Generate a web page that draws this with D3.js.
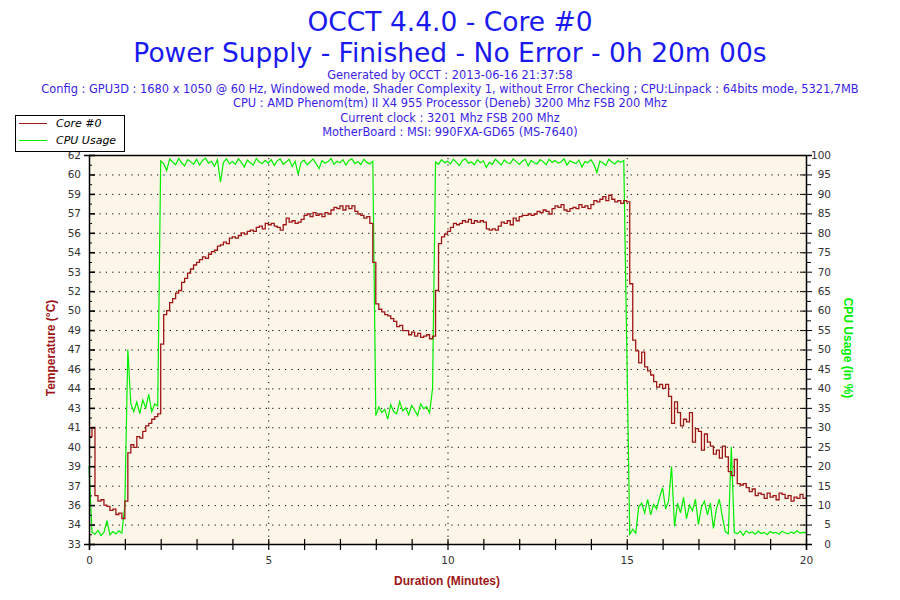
<!DOCTYPE html>
<html>
<head>
<meta charset="utf-8">
<script src="https://cdn.jsdelivr.net/npm/d3@7"></script>
<style>
  body { margin: 0; background: #fff; }
  svg { display: block; }
</style>
</head>
<body>
<svg id="chart" width="900" height="600"></svg>
<script>
// one sample every 5 seconds, 0..20 minutes
const sampleMinutes = 5 / 60;

const coreTemp = [
  41.0, 41.7, 36.6, 36.2, 36.3, 35.9, 35.8, 35.5, 35.6, 35.2, 35.3, 34.9,
  36.2, 39.8, 40.4, 40.2, 41.0, 40.9, 41.4, 41.8, 42.0, 42.3, 42.5, 42.7,
  47.9, 50.1, 50.4, 51.0, 51.3, 51.7, 51.9, 52.5, 52.8, 53.2, 53.5, 53.8,
  54.0, 54.2, 54.4, 54.3, 54.6, 54.8, 54.9, 55.2, 55.3, 55.5, 55.4, 55.8,
  55.9, 55.8, 56.0, 56.2, 56.1, 56.3, 56.4, 56.3, 56.6, 56.7, 56.5, 56.9,
  56.8, 56.9, 56.7, 56.6, 56.4, 56.8, 57.3, 57.0, 57.1, 56.9, 57.0, 57.2,
  57.5, 57.6, 57.4, 57.7, 57.5, 57.6, 57.4, 57.7, 57.6, 57.9, 58.1, 58.0,
  58.2, 57.9, 58.2, 58.0, 58.2, 57.8, 57.6, 57.5, 57.3, 57.4, 56.9, 54.0,
  50.9, 50.5, 50.3, 50.1, 50.0, 49.8, 49.6, 49.2, 49.3, 48.9, 48.9, 48.6,
  48.8, 48.5, 48.7, 48.4, 48.5, 48.6, 48.3, 48.5, 51.9, 55.4, 55.9, 56.1,
  56.3, 56.6, 56.9, 56.8, 56.9, 57.1, 57.0, 57.2, 56.9, 57.1, 57.0, 57.1,
  57.0, 56.5, 56.4, 56.5, 56.4, 56.7, 57.0, 56.9, 57.1, 56.8, 57.3, 57.1,
  57.4, 57.5, 57.5, 57.6, 57.5, 57.6, 57.8, 57.7, 57.9, 57.8, 57.6, 58.0,
  58.2, 58.1, 58.3, 57.9, 57.8, 58.0, 58.1, 58.0, 58.3, 58.1, 58.2, 58.0,
  58.3, 58.6, 58.5, 58.7, 58.9, 58.6, 59.0, 58.7, 58.5, 58.6, 58.4, 58.6,
  58.5, 52.4, 48.2, 47.4, 46.5, 47.3, 46.2, 45.9, 45.6, 45.1, 44.7, 44.9,
  44.6, 44.9, 44.0, 42.0, 43.6, 42.8, 41.8, 42.3, 42.1, 42.8, 40.6, 41.6,
  41.4, 40.0, 41.2, 40.6, 40.3, 39.7, 40.0, 39.4, 40.3, 39.5, 38.4, 38.1,
  39.3, 37.5, 37.4, 37.5, 37.2, 36.9, 37.1, 36.6, 36.8, 36.7, 36.4, 36.8,
  36.5, 36.6, 36.3, 36.8, 36.7, 36.4, 36.6, 36.2, 36.5, 36.4, 36.7, 36.4,
  36.5
];

const cpuUsage = [
  20.0, 3.0, 2.5, 3.5, 2.2, 3.0, 6.0, 2.4, 3.2, 2.6, 3.4, 2.8,
  10.0, 50.0, 36.0, 34.0, 36.5, 33.5, 37.0, 35.0, 38.5, 34.0, 36.0, 35.5,
  98.5, 97.8, 96.0, 99.0, 98.2, 97.5, 99.1, 98.0, 97.2, 98.8, 98.3, 97.6,
  98.9, 97.4, 98.6, 99.2, 97.9, 98.4, 97.1, 98.8, 93.0, 98.1, 99.0, 97.7,
  98.3, 97.6, 99.0, 98.1, 96.9, 98.7, 98.0, 97.4, 99.1, 98.2, 97.8, 98.6,
  97.9, 98.8, 97.3, 98.5, 99.0, 97.6, 98.2, 98.9, 97.0, 98.4, 95.0, 98.1,
  98.7, 97.5, 98.2, 99.0, 97.8, 96.5, 98.6, 97.9, 98.3, 99.1, 97.6, 98.4,
  98.0, 98.8, 97.4, 98.6, 99.0, 97.8, 98.3, 97.5, 98.9, 98.1, 97.7, 98.4,
  33.0, 35.2, 33.8, 34.6, 32.1, 35.8, 34.0, 33.5, 36.6, 34.2, 35.0, 33.2,
  35.6, 34.4, 33.0, 36.0, 34.8, 35.3, 33.7, 40.0, 98.2, 97.6, 98.8, 98.0,
  98.4, 97.7, 98.9, 98.1, 97.3, 98.6, 99.0, 97.9, 98.2, 97.5, 98.8, 98.0,
  98.5, 96.8, 98.1, 97.6, 98.9, 98.2, 97.4, 98.7, 98.0, 97.8, 99.0, 98.3,
  97.6, 98.4, 98.9, 97.2, 98.6, 98.0, 97.7, 98.8, 98.3, 97.5, 98.9, 98.1,
  98.6, 97.9, 98.2, 99.0, 97.4, 98.5, 98.1, 97.8, 98.7, 96.9, 98.3, 98.0,
  98.8, 97.6, 95.5, 98.4, 98.0, 97.3, 98.9, 98.2, 97.7, 98.5, 98.1, 98.6,
  51.0, 2.5, 3.8, 2.8, 9.5, 10.5, 8.0, 11.5, 7.5, 10.2, 9.0, 12.0,
  14.5, 9.0, 11.0, 19.9, 4.5, 10.5, 8.0, 12.0, 6.5, 10.0, 8.5, 11.5,
  5.0, 9.5, 11.0, 7.5, 10.5, 4.0, 9.0, 11.5, 7.0, 3.2, 2.6, 25.0,
  3.0, 2.6, 3.3, 2.2, 3.4, 2.8, 3.1, 2.5, 3.3, 2.7, 3.0, 2.4,
  3.2, 2.8, 3.0, 2.5, 3.3, 2.9, 2.6, 3.1, 2.7, 3.4, 2.8, 3.0,
  2.9
];

const tempLabels = ["33","34","36","37","39","40","41","43","44","46","47",
                    "49","50","52","53","54","56","57","59","60","62"];
const cpuTicks = d3.range(0, 101, 5);
const minuteTicks = d3.range(0, 21, 1);

const titleLines = ["OCCT 4.4.0 - Core #0", "Power Supply - Finished - No Error - 0h 20m 00s"];
const infoLines = [
  "Generated by OCCT : 2013-06-16 21:37:58",
  "Config : GPU3D : 1680 x 1050 @ 60 Hz, Windowed mode, Shader Complexity 1, without Error Checking ; CPU:Linpack : 64bits mode, 5321,7MB",
  "CPU : AMD Phenom(tm) II X4 955 Processor (Deneb) 3200 Mhz FSB 200 Mhz",
  "Current clock : 3201 Mhz FSB 200 Mhz",
  "MotherBoard : MSI: 990FXA-GD65 (MS-7640)"
];

const red = "#9e1616";
const green = "#00ee00";

const svg = d3.select("#chart");
const pLeft = 89, pRight = 806, pTop = 155, pBottom = 544;

const x = d3.scaleLinear().domain([0, 20]).range([pLeft, pRight]);
const yT = d3.scaleLinear().domain([33, 62]).range([pBottom, pTop]);
const yC = d3.scaleLinear().domain([0, 100]).range([pBottom, pTop]);

// titles
svg.selectAll("text.title")
  .data(titleLines)
  .enter().append("text")
  .attr("class", "title")
  .attr("x", 450)
  .attr("y", (d, i) => 31 + i * 31)
  .attr("text-anchor", "middle")
  .style("font-family", "DejaVu Sans, Verdana, sans-serif")
  .style("font-size", "26.5px")
  .style("fill", "#1a1aee")
  .text(d => d);

svg.selectAll("text.info")
  .data(infoLines)
  .enter().append("text")
  .attr("class", "info")
  .attr("x", 450)
  .attr("y", (d, i) => 79 + i * 14.2)
  .attr("text-anchor", "middle")
  .style("font-family", "DejaVu Sans, Verdana, sans-serif")
  .style("font-size", "11.4px")
  .style("fill", "#3a1ee6")
  .text(d => d);

// plot background
svg.append("rect")
  .attr("x", pLeft).attr("y", pTop)
  .attr("width", pRight - pLeft).attr("height", pBottom - pTop)
  .style("fill", "#fdf6e8");

// dotted grid
svg.append("g").selectAll("line")
  .data(cpuTicks.filter(d => d > 0 && d < 100))
  .enter().append("line")
  .attr("x1", pLeft + 4).attr("x2", pRight)
  .attr("y1", d => yC(d) + 0.5).attr("y2", d => yC(d) + 0.5)
  .style("stroke", "#000")
  .style("stroke-dasharray", "1.2,5.2");

svg.append("g").selectAll("line")
  .data([5, 10, 15])
  .enter().append("line")
  .attr("x1", d => x(d) + 0.5).attr("x2", d => x(d) + 0.5)
  .attr("y1", pTop + 3).attr("y2", pBottom)
  .style("stroke", "#000")
  .style("stroke-dasharray", "1.2,5.2");

// series
const tLine = d3.line()
  .x((d, i) => x(i * sampleMinutes))
  .y(d => yT(d))
  .curve(d3.curveStepAfter);
const cLine = d3.line()
  .x((d, i) => x(i * sampleMinutes))
  .y(d => yC(d));

svg.append("path")
  .datum(cpuUsage)
  .attr("d", cLine)
  .style("fill", "none")
  .style("stroke", green)
  .style("stroke-width", 1.2);

svg.append("path")
  .datum(coreTemp)
  .attr("d", tLine)
  .style("fill", "none")
  .style("stroke", red)
  .style("stroke-width", 1.3);

// frame top
svg.append("line")
  .attr("x1", pLeft).attr("x2", pRight)
  .attr("y1", pTop + 0.5).attr("y2", pTop + 0.5)
  .style("stroke", "#000").style("stroke-width", 1.5);

const tickFont = "DejaVu Sans, Verdana, sans-serif";

// left axis
const tempTickVals = tempLabels.map((d, i) => 33 + i * (62 - 33) / 20);
const gL = svg.append("g").attr("transform", `translate(${pLeft},0)`)
  .call(d3.axisLeft(yT).tickValues(tempTickVals).tickSize(5)
    .tickFormat((d, i) => tempLabels[i]));
gL.selectAll(".tick line").attr("x2", 6).style("stroke-width", 1.6);
gL.selectAll(".tick text")
  .attr("x", -8)
  .style("font-family", tickFont).style("font-size", "10.5px").style("fill", "#333");
gL.select(".domain").style("stroke-width", 1.5);
svg.append("g").attr("transform", `translate(${pLeft},0)`)
  .call(d3.axisLeft(yT).tickValues(tempTickVals.slice(1).map(d => d - 0.725)).tickSize(3).tickFormat(""))
  .call(g => g.select(".domain").remove())
  .selectAll(".tick line").attr("x2", 3);

// right axis
const gR = svg.append("g").attr("transform", `translate(${pRight},0)`)
  .call(d3.axisRight(yC).tickValues(cpuTicks).tickSize(6));
gR.selectAll(".tick line").attr("x1", -6);
gR.selectAll(".tick text")
  .attr("x", 25)
  .attr("text-anchor", "end")
  .style("font-family", tickFont).style("font-size", "10.5px").style("fill", "#333");
gR.select(".domain").style("stroke-width", 1.5);
svg.append("g").attr("transform", `translate(${pRight},0)`)
  .call(d3.axisRight(yC).tickValues(cpuTicks.slice(1).map(d => d - 2.5)).tickSize(5).tickFormat(""))
  .call(g => g.select(".domain").remove());

// bottom axis
const gB = svg.append("g").attr("transform", `translate(0,${pBottom})`)
  .call(d3.axisBottom(x).tickValues(minuteTicks).tickSize(6)
    .tickFormat(d => d % 5 === 0 ? d : ""));
gB.selectAll(".tick line").attr("y1", -5).style("stroke-width", 1.2);
gB.selectAll(".tick text")
  .attr("y", 13)
  .style("font-family", tickFont).style("font-size", "10.5px").style("fill", "#333");
gB.select(".domain").style("stroke-width", 1.5);

// axis titles
svg.append("text")
  .attr("transform", "translate(55,348) rotate(-90)")
  .attr("text-anchor", "middle")
  .style("font-family", "Liberation Sans, Arial, sans-serif")
  .style("font-weight", "bold").style("font-size", "12px")
  .style("fill", red)
  .text("Temperature (°C)");

svg.append("text")
  .attr("transform", "translate(844,348) rotate(90)")
  .attr("text-anchor", "middle")
  .style("font-family", "Liberation Sans, Arial, sans-serif")
  .style("font-weight", "bold").style("font-size", "12px")
  .style("fill", green)
  .text("CPU Usage (in %)");

svg.append("text")
  .attr("x", 447).attr("y", 585)
  .attr("text-anchor", "middle")
  .style("font-family", "Liberation Sans, Arial, sans-serif")
  .style("font-weight", "bold").style("font-size", "12px")
  .style("fill", red)
  .text("Duration (Minutes)");

// legend
const legendItems = [{ name: "Core #0", color: red }, { name: "CPU Usage", color: green }];
const lg = svg.append("g");
lg.append("rect")
  .attr("x", 15.5).attr("y", 115.5).attr("width", 109).attr("height", 36)
  .style("fill", "#fff").style("stroke", "#000");
lg.selectAll("line")
  .data(legendItems)
  .enter().append("line")
  .attr("x1", 19).attr("x2", 47)
  .attr("y1", (d, i) => 123.5 + i * 17).attr("y2", (d, i) => 123.5 + i * 17)
  .style("stroke", d => d.color);
lg.selectAll("text")
  .data(legendItems)
  .enter().append("text")
  .attr("x", 56)
  .attr("y", (d, i) => 127 + i * 17)
  .style("font-family", "DejaVu Sans, Verdana, sans-serif")
  .style("font-style", "italic").style("font-size", "11px")
  .style("fill", "#000")
  .text(d => d.name);
</script>
</body>
</html>
